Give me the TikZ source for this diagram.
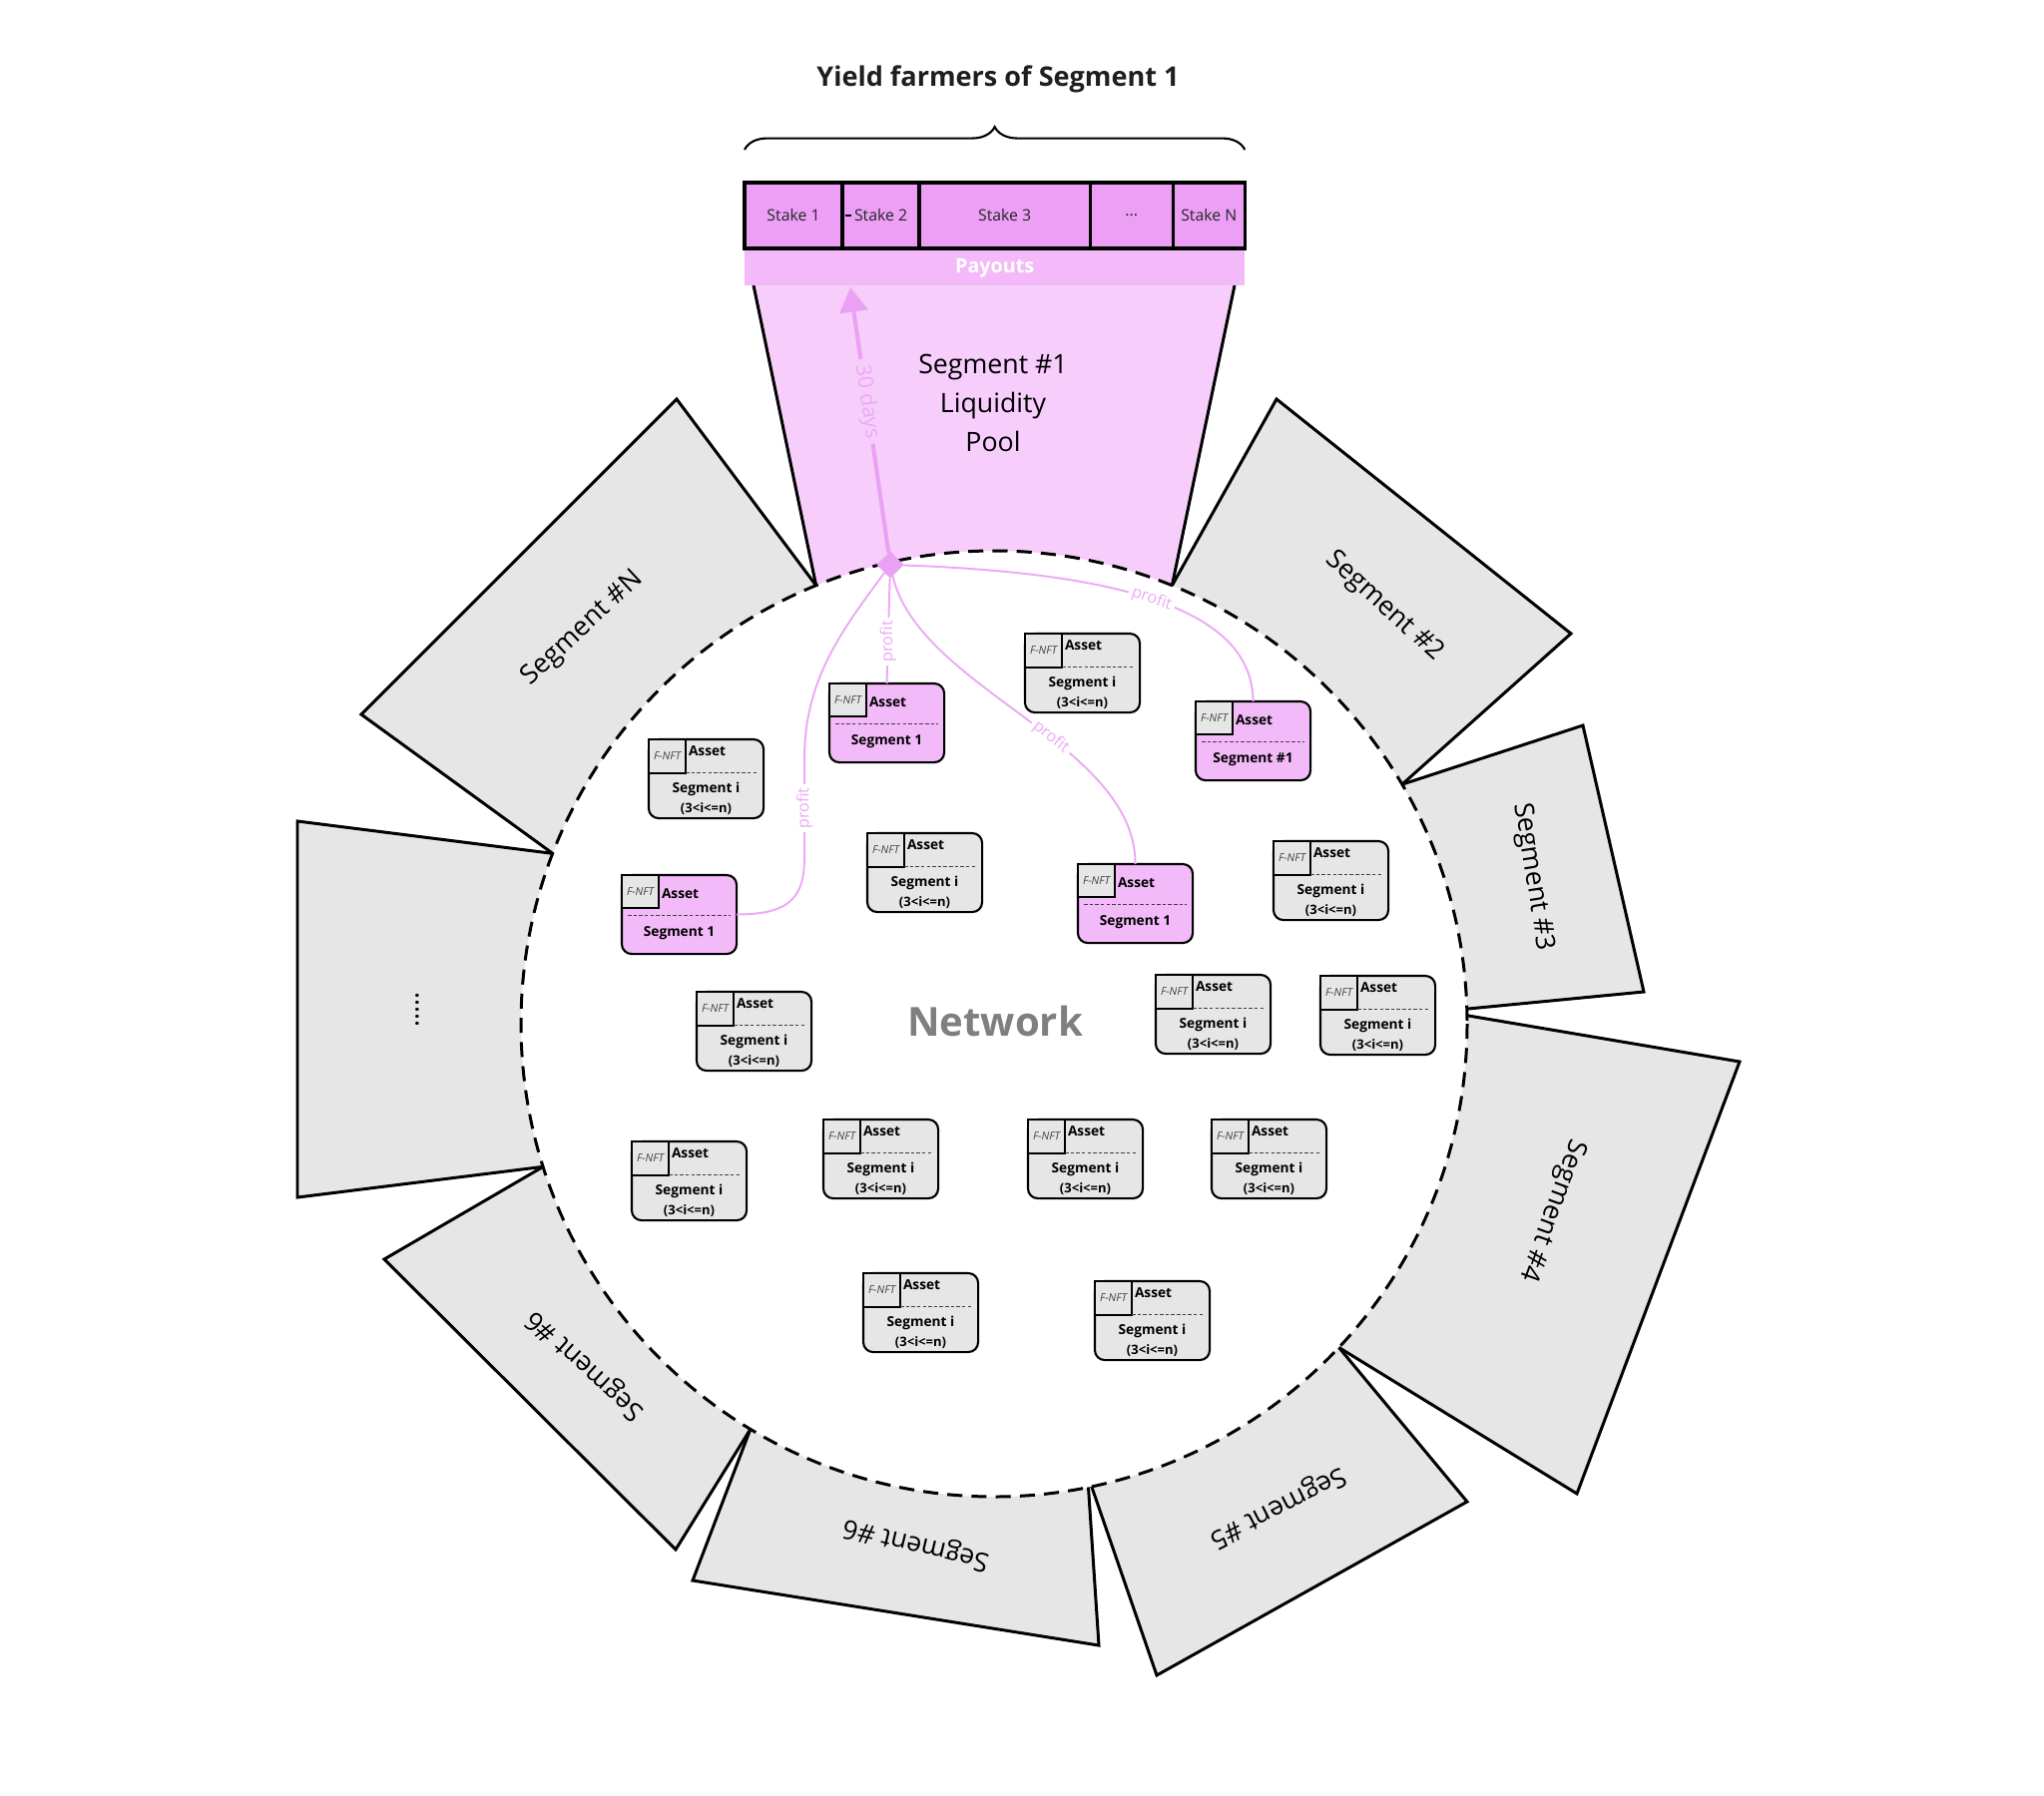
\documentclass[tikz,border=0pt]{standalone}
\usepackage{fontspec}
\setmainfont{Open Sans}
\usetikzlibrary{calc,positioning,arrows.meta,decorations.pathreplacing}

\definecolor{seggray}{HTML}{E6E6E6}
\definecolor{stakepink}{HTML}{EC9FF5}
\definecolor{payoutpink}{HTML}{F3B9F8}
\definecolor{poolpink}{HTML}{F7CDFC}
\definecolor{assetpink}{HTML}{F2BAF8}
\definecolor{hubpink}{HTML}{E9A2F3}
\definecolor{profitpink}{HTML}{ECA9F5}
\definecolor{netgray}{HTML}{7F7F7F}

\begin{document}
\begin{tikzpicture}[x=0.01cm,y=-0.01cm]
	\tikzstyle{every node}=[inner sep=0pt, outer sep=0pt, font=\fontsize{5}{6}\selectfont]
	\tikzset{
		segline/.style={line width=0.85pt, line join=miter},
		seglabel/.style={font=\fontsize{7.6}{9}\selectfont},
		stake/.style={draw, line width=0.95pt, fill=stakepink, minimum height=0.66cm, anchor=north west, text=black!85, font=\fontsize{4.5}{5}\selectfont},
		assetbox/.style={draw, line width=0.6pt, rounded corners=2.8pt, minimum width=1.15cm, minimum height=0.79cm, anchor=north west},
		fnftbox/.style={draw, line width=0.6pt, fill=seggray},
		fnfttext/.style={text=black!75, font=\fontsize{3.1}{3.5}\selectfont\itshape},
		assettext/.style={anchor=west, font=\fontsize{3.9}{4.5}\selectfont\bfseries},
		segtext/.style={font=\fontsize{3.9}{4.5}\selectfont\bfseries},
		rangetext/.style={font=\fontsize{3.7}{4.2}\selectfont\bfseries},
		sepdash/.style={draw=black!75, line width=0.25pt, dash pattern=on 1pt off 0.6pt},
		profitline/.style={draw=profitpink, line width=0.55pt},
		profitlabel/.style={text=profitpink, fill=white, inner sep=1pt, font=\fontsize{4.6}{5}\selectfont}
	}
	\useasboundingbox (0,0) rectangle (2048,1799);
	
	\coordinate (C) at (996,1026);
	
	% segments round the network
	\foreach \as/\ax/\ay/\bx/\by/\ae in {292.1/1279/400/1574/635/329.6, 329.6/1586/727/1647/994/358.2, 359/1743/1064/1580/1497/403.2, 43.2/1470/1505/1159/1679/78.1, 78.5/1101/1649/694/1584/121, 121/677/1553/385/1262/162.4, 162.4/298/1200/298/823/201.1, 201.1/362/716/678/400/247.9}{
		\fill[seggray] ($(C)+(\as:474)$) -- (\ax,\ay) -- (\bx,\by) -- ($(C)+(\ae:474)$) arc[start angle=\ae, end angle=\as, radius=474] -- cycle;
		\draw[segline] ($(C)+(\as:474)$) -- (\ax,\ay) -- (\bx,\by) -- ($(C)+(\ae:474)$);
	}
	
	% liquidity pool of segment 1
	\fill[poolpink] ($(C)+(247.9:474)$) -- (755,286) -- (1237,286) -- ($(C)+(292.1:474)$) arc[start angle=292.1, end angle=247.9, radius=474] -- cycle;
	\draw[segline] ($(C)+(247.9:474)$) -- (755,286);
	\draw[segline] (1237,286) -- ($(C)+(292.1:474)$);
	
	\draw[line width=0.85pt, dash pattern=on 4.3pt off 2.6pt] (C) circle[radius=474];
	
	\node[seglabel, rotate=43] at (584,630) {Segment \#N};
	\node[seglabel, rotate=-42] at (1387,608) {Segment \#2};
	\node[seglabel, rotate=-81] at (1536,879) {Segment \#3};
	\node[seglabel, rotate=-110] at (1555,1213) {Segment \#4};
	\node[seglabel, rotate=-153] at (1280,1510) {Segment \#5};
	\node[seglabel, rotate=166.5] at (918,1547) {Segment \#6};
	\node[seglabel, rotate=138] at (587,1368) {Segment \#6};
	\node[seglabel, rotate=90] at (418,1012) {.....};
	
	\node[align=center, font=\fontsize{7.6}{11.1}\selectfont] (pool) at (995,404) {Segment \#1\\Liquidity\\Pool};
	
	% stakes and payouts
	\node[stake, minimum width=0.98cm] (s1) at (746,183) {Stake 1};
	\node[stake, minimum width=0.77cm] (s2) at (s1.north east) {Stake 2};
	\node[stake, minimum width=1.71cm] (s3) at (s2.north east) {Stake 3};
	\node[stake, minimum width=0.83cm] (s4) at (s3.north east) {...};
	\node[stake, minimum width=0.72cm] (s5) at (s4.north east) {Stake N};
	\draw[line width=0.4pt] ($(s2.west)+(3,0)$) -- ++(6,0);
	\node[fill=payoutpink, minimum width=5.01cm, minimum height=0.35cm, anchor=north west, text=white, font=\fontsize{5.6}{6}\selectfont\bfseries] (pay) at ($(s1.south west)+(0,2)$) {Payouts};
	
	\draw[decorate, decoration={brace, amplitude=6.5pt}, line width=0.6pt] ($(s1.north west)+(0,-33)$) -- ($(s5.north east)+(0,-33)$);
	\node[text=black!88, font=\fontsize{7.7}{9}\selectfont\bfseries] (title) at (1000,79) {Yield farmers of Segment 1};
	
	\node[text=netgray, font=\fontsize{11.4}{13}\selectfont\bfseries] (net) at (997,1023) {Network};
	
	% assets of other segments
	\foreach \x/\y [count=\i] in {1027/635, 650/741, 869/835, 1276/843, 698/994, 1158/977, 1323/978, 633/1144, 825/1122, 1030/1122, 1214/1122, 865/1276, 1097/1284}{
		\node[assetbox, fill=seggray] (g\i) at (\x,\y) {};
		\draw[fnftbox] (g\i.north west) rectangle ++(37,34);
		\node[fnfttext] at ($(g\i.north west)+(18.5,17)$) {F-NFT};
		\node[assettext] at ($(g\i.north west)+(40,12)$) {Asset};
		\draw[sepdash] ($(g\i.north west)+(37,33)$) -- ++(73,0);
		\node[segtext] at ($(g\i.north west)+(57.5,50)$) {Segment i};
		\node[rangetext] at ($(g\i.north west)+(57.5,70)$) {(3<i<=n)};
	}
	
	% assets of segment 1
	\foreach \x/\y/\n/\t in {831/685/p1/Segment 1, 1198/703/p2/Segment \#1, 623/877/p3/Segment 1, 1080/866/p4/Segment 1}{
		\node[assetbox, fill=assetpink] (\n) at (\x,\y) {};
		\draw[fnftbox] (\n.north west) rectangle ++(37,33);
		\node[fnfttext] at ($(\n.north west)+(18.5,16.5)$) {F-NFT};
		\node[assettext] at ($(\n.north west)+(40,19)$) {Asset};
		\draw[sepdash] ($(\n.north west)+(6,40)$) -- ++(103,0);
		\node[segtext] at ($(\n.north west)+(57.5,58)$) {\t};
	}
	
	% profit flow
	\node[fill=hubpink, minimum size=5.5pt, rotate=45] (hub) at (892,566) {};
	\coordinate (paytip) at (852,288);
	\draw[draw=hubpink, line width=1.15pt, -{Triangle[width=8pt,length=7pt]}] (hub) -- node[pos=0.57, rotate=-81.8, fill=poolpink, text=profitpink, inner sep=1.5pt, font=\fontsize{6}{7}\selectfont] {30 days} (paytip);
	
	\draw[profitline] (hub) .. controls (1150,575) and (1255,620) .. node[profitlabel, pos=0.45, rotate=-19] {profit} (p2.north);
	\draw[profitline] (hub) -- node[profitlabel, pos=0.6, rotate=90] {profit} (p1.north);
	\draw[profitline] (hub) .. controls (845,630) and (806,680) .. (806,760) -- node[profitlabel, rotate=90] {profit} (806,860) .. controls (806,905) and (785,916) .. (p3.east);
	\draw[profitline] (hub) .. controls (920,690) and (1138,745) .. node[profitlabel, pos=0.58, rotate=-39] {profit} (p4.north);
	
\end{tikzpicture}
\end{document}
